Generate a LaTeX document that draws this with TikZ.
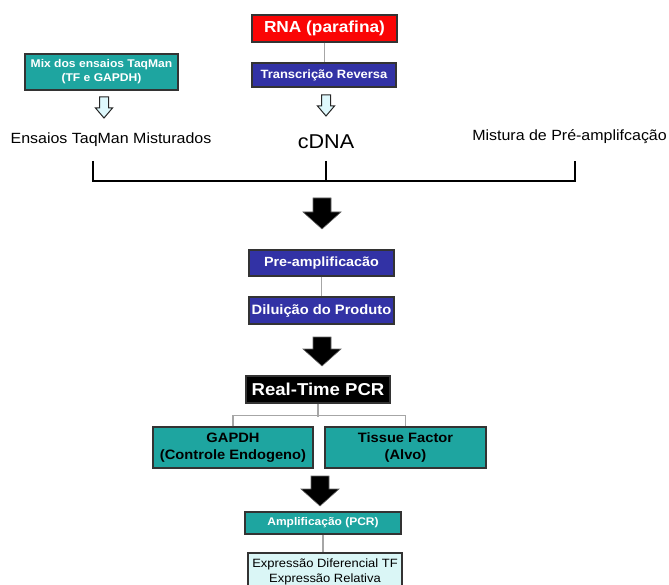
\documentclass[tikz,border=0pt]{standalone}
\usepackage{fontspec}
\setmainfont{Liberation Sans}[FakeStretch=1.08]
\definecolor{rnared}{RGB}{250,5,5}
\definecolor{tblue}{RGB}{50,50,165}
\definecolor{tealbox}{RGB}{30,165,160}
\definecolor{lcyan}{RGB}{218,246,246}
\definecolor{arrcyan}{RGB}{222,248,252}
\newcommand\fs[2]{\fontsize{#1}{#2}\selectfont}
\tikzset{
  box/.style={draw=black!80, line width=1.2pt, inner sep=0pt, align=center},
  conn/.style={draw=black!35, line width=1.3pt},
  hollowarr/.style={draw=black!85, line width=1pt, fill=arrcyan},
  blackarr/.style={draw=black!60, line width=0.6pt, fill=black},
  bracket/.style={draw=black, line width=2pt},
}
\newcommand\hollowarrow[3]{%
  \draw[hollowarr] (#1-4.5,#2) -- (#1+4.5,#2) -- (#1+4.5,#3-10) -- (#1+8.5,#3-10)
    -- (#1,#3) -- (#1-8.5,#3-10) -- (#1-4.5,#3-10) -- cycle;}
\newcommand\blackarrow[3]{%
  \draw[blackarr] (#1-9,#2) -- (#1+9,#2) -- (#1+9,#3-17) -- (#1+19,#3-17)
    -- (#1,#3) -- (#1-19,#3-17) -- (#1-9,#3-17) -- cycle;}
\begin{document}
\begin{tikzpicture}[x=1pt,y=-1pt]
\useasboundingbox (0,0) rectangle (669,585);
\clip (0,0) rectangle (669,585);

% top column
\node[box, fill=rnared, text=white, minimum width=145pt, minimum height=27pt,
      font=\fs{16}{18}\bfseries] (rna) at (324.5,28.5) {RNA (parafina)};
\node[box, fill=tblue, text=white, minimum width=144pt, minimum height=24pt,
      font=\fs{12}{14}\bfseries] (rt) at (324,75) {Transcrição Reversa};
\draw[conn] (rna.south) -- (rna.south |- rt.north);

\node[box, fill=tealbox, text=white, minimum width=153pt, minimum height=36pt,
      font=\fs{11.2}{14}\bfseries] (mix) at (101.5,72) {Mix dos ensaios TaqMan\\(TF e GAPDH)};

\hollowarrow{104}{97}{118}
\hollowarrow{326}{95}{116}

\node[font=\fs{14.8}{17}, inner sep=0pt] (ens) at (111,140) {Ensaios TaqMan Misturados};
\node[font=\fs{20}{22}, inner sep=0pt] (cdna) at (326,142) {cDNA};
\node[font=\fs{14.8}{17}, inner sep=0pt, anchor=east] (mist) at (667,137) {Mistura de Pré-amplifcação};

% bracket
\coordinate (bl) at (93,161);
\coordinate (bm) at (326,161);
\coordinate (br) at (575,161);
\draw[bracket] (bl) -- ++(0,20) -| (br);
\draw[bracket] (bm) -- ++(0,20);

\blackarrow{322}{198}{229}

\node[box, fill=tblue, text=white, minimum width=145pt, minimum height=26pt,
      font=\fs{13.3}{15}\bfseries] (pre) at (321.5,263) {Pre-amplificacão};
\node[box, fill=tblue, text=white, minimum width=145pt, minimum height=27pt,
      font=\fs{13.6}{15}\bfseries] (dil) at (321.5,310.5) {Diluição do Produto};
\draw[conn] (pre.south) -- (dil.north);

\blackarrow{322}{337}{366}

\node[box, fill=black, text=white, minimum width=144pt, minimum height=27pt,
      font=\fs{17.2}{19}\bfseries] (pcr) at (318,389.5) {Real-Time PCR};

\node[box, fill=tealbox, text=black, minimum width=160pt, minimum height=41pt,
      font=\fs{13.6}{17.5}\bfseries] (gapdh) at (233,447.5) {GAPDH\\(Controle Endogeno)};
\node[box, fill=tealbox, text=black, minimum width=161pt, minimum height=41pt,
      font=\fs{13.6}{17.5}\bfseries] (tf) at (405.5,447.5) {Tissue Factor\\(Alvo)};
\draw[conn] (pcr.south) -- ++(0,13);
\draw[conn] (gapdh.north) -- ++(0,-11) -| (tf.north);

\blackarrow{320}{476}{506}

\node[box, fill=tealbox, text=white, minimum width=156pt, minimum height=22pt,
      font=\fs{11.1}{13}\bfseries] (amp) at (323,523) {Amplificação (PCR)};
\node[box, fill=lcyan, text=black, minimum width=154pt, minimum height=38pt,
      font=\fs{12}{15}] (expr) at (325,572) {Expressão Diferencial TF\\Expressão Relativa};
\draw[conn] (amp.south) -- (amp.south |- expr.north);
\end{tikzpicture}
\end{document}
